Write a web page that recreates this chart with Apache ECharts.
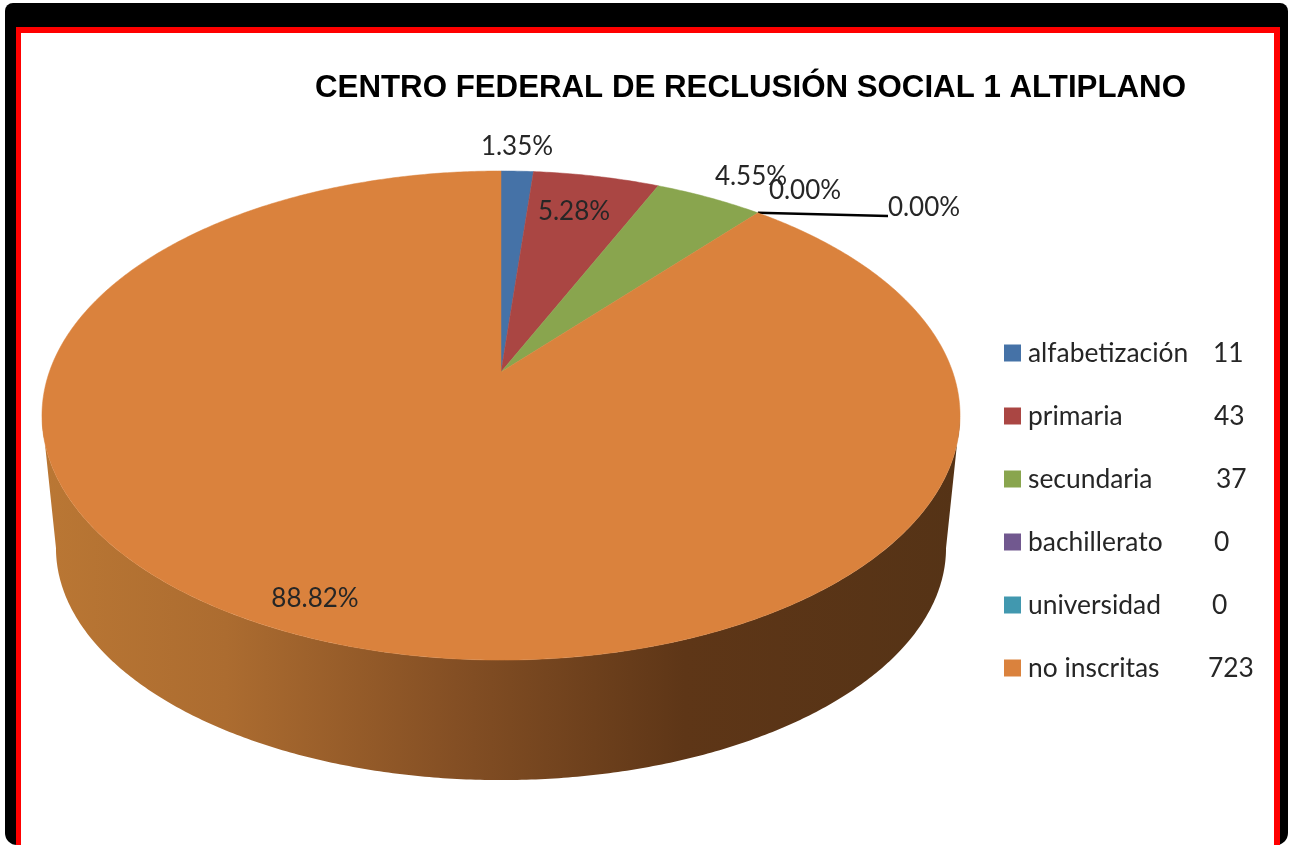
<!DOCTYPE html>
<html><head><meta charset="utf-8">
<style>html,body{margin:0;padding:0;background:#fff}#c{width:1291px;height:845px}</style>
<script src="https://cdn.jsdelivr.net/npm/echarts@6/dist/echarts.min.js"></script>
</head><body><div id="c"></div>
<script>
const titleText = 'CENTRO FEDERAL DE RECLUSIÓN SOCIAL 1 ALTIPLANO';
const categories = ['alfabetización','primaria','secundaria','bachillerato','universidad','no inscritas'];
const counts = [11,43,37,0,0,723];
const colors = ['#4572A7','#AA4643','#89A54E','#71588F','#4198AF','#DA823D'];

// layout only
const labelPos = [[517,147],[574,212],[751,177],[805,191],[924,208],[315,599]];
const legendPad = [9,10,12,10,8,4];
const P = {cx:501,y0:372,A:451.7,B:236.8,k:0.178};
const WALL = {sx:0.9695,sy:0.949,cy0:415.5,cy1:548};
const FONT = '26px Lato';

const total = counts.reduce((a,b)=>a+b,0);
function rim(f){
  const t = f*2*Math.PI, u = Math.sin(t), v = -Math.cos(t), w = 1-P.k*v;
  return [P.cx+P.A*u/w, P.y0+P.B*v/w];
}
function lower(p){ return [P.cx+(p[0]-P.cx)*WALL.sx, WALL.cy1+(p[1]-WALL.cy0)*WALL.sy]; }
function arc(f0,f1){
  const n = Math.max(1,Math.ceil((f1-f0)*720)), pts=[];
  for(let i=0;i<=n;i++) pts.push(rim(f0+(f1-f0)*i/n));
  return pts;
}
const wallGrad = new echarts.graphic.LinearGradient(42,0,960,0,[
  {offset:0,color:'#BA7734'},{offset:.2,color:'#AC6C30'},{offset:.45,color:'#844F24'},
  {offset:.7,color:'#5E3617'},{offset:1,color:'#553316'}],true);

function makeSeries(i){
  let before = 0; for(let j=0;j<i;j++) before += counts[j];
  return {
    name:categories[i], type:'custom', coordinateSystem:'none',
    itemStyle:{color:colors[i]},
    data:[[counts[i]]],
    renderItem(params,api){
      const v = api.value(0), f0 = before/total, f1 = (before+v)/total;
      const kids = [];
      if(v>0){
        if(f1>0.75 && f0<0.25){
          const a = (Math.PI-Math.acos(P.k))/(2*Math.PI);
          const top = arc(a,1-a);
          const bot = top.map(lower).reverse();
          kids.push({type:'polygon',shape:{points:top.concat(bot)},style:{fill:wallGrad}});
        }
        kids.push({type:'polygon',shape:{points:[[P.cx,P.y0]].concat(arc(f0,f1))},style:{fill:colors[i],stroke:colors[i],lineWidth:.5}});
      }
      if(i===4){
        const s = rim(f1);
        kids.push({type:'polyline',shape:{points:[s,[labelPos[4][0]-36,labelPos[4][1]+8]]},style:{stroke:'#000',lineWidth:2.5,fill:'none'}});
      }
      kids.push({type:'text',z2:10,style:{text:(v/total*100).toFixed(2)+'%',x:labelPos[i][0],y:labelPos[i][1],
        font:FONT,fill:'#262626',align:'center',verticalAlign:'middle'}});
      return {type:'group',children:kids};
    }
  };
}
const rich = {n:{width:176,fontFamily:'Lato',fontSize:26.4,color:'#262626',padding:[0,0,0,2]}};
legendPad.forEach((p,i)=>{rich['v'+i]={fontFamily:'Lato',fontSize:26.4,color:'#262626',padding:[0,0,0,p]};});

const chart = echarts.init(document.getElementById('c'),null,{renderer:'canvas'});
chart.setOption({
  animation:false,
  backgroundColor:'#fff',
  title:{text:titleText,left:315,top:73,padding:0,textStyle:{fontFamily:'Liberation Sans',fontWeight:'bold',fontSize:31.25,color:'#000'}},
  legend:{orient:'vertical',left:1004,top:340,padding:0,itemWidth:17,itemHeight:17,itemGap:37,
    icon:'rect',data:categories,selectedMode:false,
    textStyle:{rich:rich},
    formatter(name){const i=categories.indexOf(name);return '{n|'+name+'}{v'+i+'|'+counts[i]+'}';}},
  graphic:[
    {type:'rect',z:0,shape:{x:5,y:3,width:1283,height:842,r:[8,8,12,12]},style:{fill:'#000'}},
    {type:'rect',z:0,shape:{x:16,y:27,width:1264,height:830},style:{fill:'#f00'}},
    {type:'rect',z:0,shape:{x:21,y:33,width:1253,height:830},style:{fill:'#fff'}}
  ],
  series:categories.map((c,i)=>makeSeries(i))
});
</script></body></html>
